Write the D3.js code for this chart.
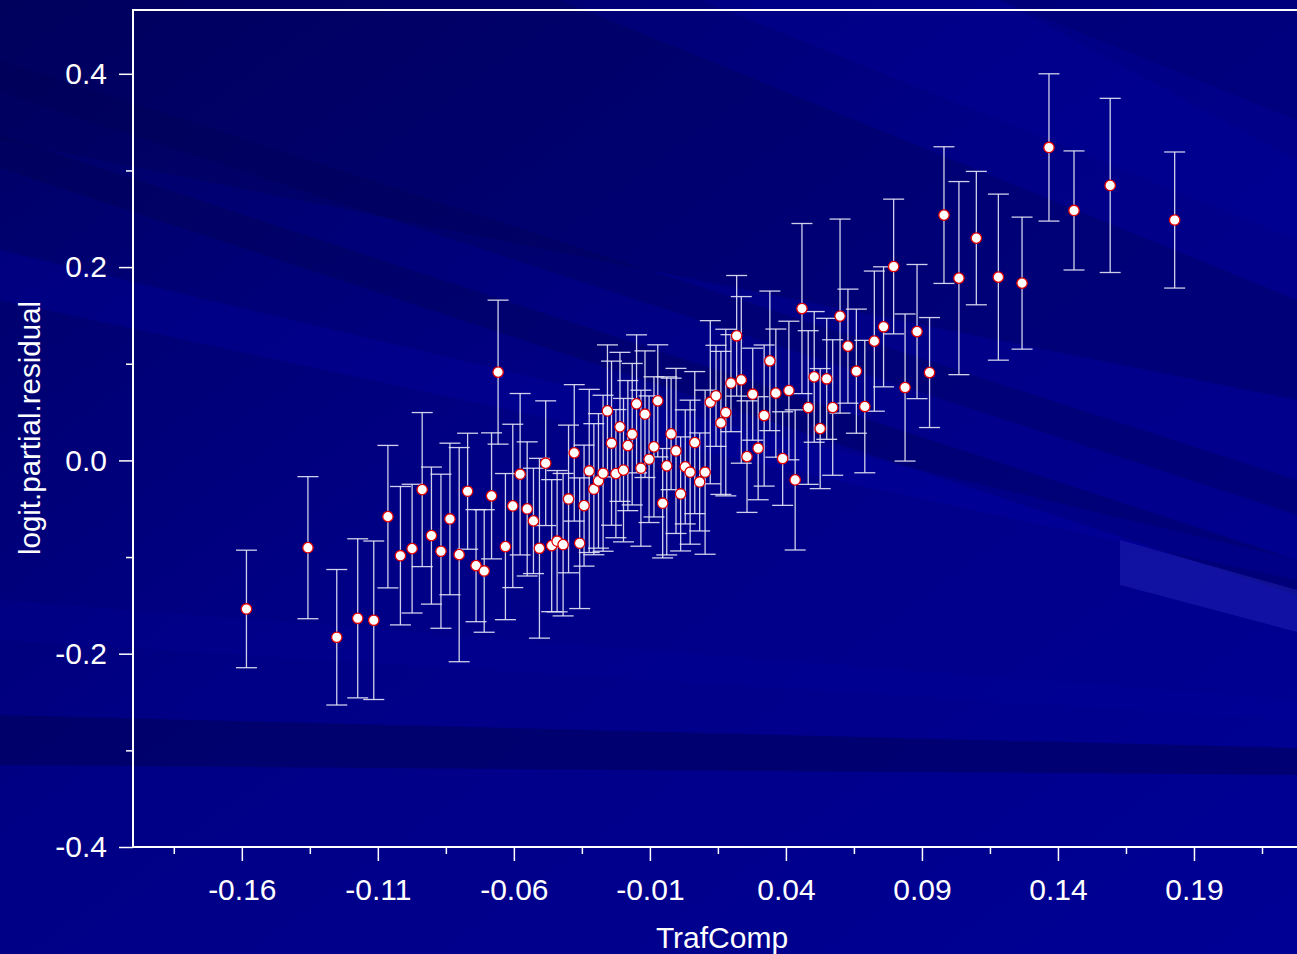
<!DOCTYPE html>
<html lang="en">
<head>
  <meta charset="UTF-8">
  <title>TrafComp partial residual</title>
  <style>
    html, body { margin: 0; padding: 0; overflow: hidden; background: #00007e; }
    svg { display: block; }
    .tick text { font-family: "Liberation Sans", Arial, sans-serif; font-size: 30px; fill: #fff; }
    .axis-title { font-family: "Liberation Sans", Arial, sans-serif; fill: #fff; }
  </style>
  <script src="https://d3js.org/d3.v7.min.js"></script>
</head>
<body>
  <svg width="1297" height="954"></svg>
  <script>
    // values
    const trafComp = [
      -0.1583, -0.1357, -0.1251, -0.1174, -0.1115, -0.1063, -0.1017, -0.0974, -0.0937, -0.0903,
      -0.0868, -0.0835, -0.0801, -0.0770, -0.0739, -0.0709, -0.0682, -0.0658, -0.0631, -0.0604,
      -0.0577, -0.0551, -0.0528, -0.0506, -0.0483, -0.0461, -0.0441, -0.0419, -0.0399, -0.0378,
      -0.0358, -0.0342, -0.0323, -0.0306, -0.0289, -0.0272, -0.0256, -0.0241, -0.0225, -0.0210,
      -0.0197, -0.0181, -0.0165, -0.0149, -0.0133, -0.0118, -0.0103, -0.0085, -0.0071, -0.0053,
      -0.0038, -0.0022, -0.0004, 0.0013, 0.0030, 0.0048, 0.0065, 0.0083, 0.0103, 0.0122,
      0.0143, 0.0161, 0.0179, 0.0198, 0.0219, 0.0236, 0.0257, 0.0278, 0.0298, 0.0320,
      0.0341, 0.0363, 0.0388, 0.0411, 0.0434, 0.0459, 0.0482, 0.0504, 0.0526, 0.0550,
      0.0572, 0.0599, 0.0628, 0.0659, 0.0690, 0.0725, 0.0759, 0.0796, 0.0838, 0.0882,
      0.0928, 0.0981, 0.1036, 0.1100, 0.1181, 0.1268, 0.1367, 0.1459, 0.1592, 0.1829
    ];
    const partialResid = [
      -0.1537, -0.0903, -0.1830, -0.1634, -0.1654, -0.0582, -0.0986, -0.0913, -0.0302, -0.0778,
      -0.0940, -0.0606, -0.0975, -0.0319, -0.1089, -0.1144, -0.0367, 0.0913, -0.0892, -0.0471,
      -0.0143, -0.0502, -0.0626, -0.0909, -0.0029, -0.0882, -0.0836, -0.0872, -0.0399, 0.0078,
      -0.0857, -0.0468, -0.0109, -0.0298, -0.0212, -0.0133, 0.0512, 0.0178, -0.0137, 0.0347,
      -0.0101, 0.0153, 0.0271, 0.0585, -0.0081, 0.0478, 0.0012, 0.0140, 0.0616, -0.0443,
      -0.0057, 0.0274, 0.0098, -0.0347, -0.0067, -0.0122, 0.0184, -0.0223, -0.0122, 0.0602,
      0.0668, 0.0388, 0.0495, 0.0799, 0.1289, 0.0833, 0.0039, 0.0685, 0.0126, 0.0464,
      0.1030, 0.0696, 0.0019, 0.0723, -0.0202, 0.1571, 0.0547, 0.0864, 0.0329, 0.0844,
      0.0547, 0.1493, 0.1182, 0.0923, 0.0557, 0.1234, 0.1382, 0.2006, 0.0754, 0.1333,
      0.0909, 0.2538, 0.1886, 0.2300, 0.1896, 0.1834, 0.3238, 0.2586, 0.2845, 0.2487
    ];
    const stdErr = [
      0.0608, 0.0735, 0.0701, 0.0823, 0.0820, 0.0737, 0.0716, 0.0666, 0.0797, 0.0709,
      0.0797, 0.0784, 0.1108, 0.0600, 0.0580, 0.0634, 0.0652, 0.0745, 0.0756, 0.0845,
      0.0835, 0.0694, 0.0545, 0.0930, 0.0645, 0.0683, 0.0731, 0.0737, 0.0764, 0.0706,
      0.0676, 0.0626, 0.0844, 0.0678, 0.0696, 0.0807, 0.0683, 0.0849, 0.0663, 0.0771,
      0.0742, 0.0673, 0.0732, 0.0714, 0.0807, 0.0655, 0.0655, 0.0725, 0.0580, 0.0566,
      0.0921, 0.0577, 0.0854, 0.0590, 0.0590, 0.0745, 0.0735, 0.0507, 0.0849, 0.0844,
      0.0523, 0.0740, 0.0862, 0.0502, 0.0624, 0.0862, 0.0577, 0.0476, 0.0533, 0.0730,
      0.0722, 0.0663, 0.0484, 0.0717, 0.0725, 0.0880, 0.0795, 0.0676, 0.0621, 0.0626,
      0.0701, 0.1004, 0.0590, 0.0642, 0.0685, 0.0725, 0.0621, 0.0697, 0.0761, 0.0694,
      0.0569, 0.0707, 0.0999, 0.0690, 0.0859, 0.0683, 0.0762, 0.0616, 0.0901, 0.0704
    ];

    const xMajor = [-0.16, -0.11, -0.06, -0.01, 0.04, 0.09, 0.14, 0.19];
    const xMinor = [-0.185, -0.135, -0.085, -0.035, 0.015, 0.065, 0.115, 0.165, 0.215];
    const yMajor = [-0.4, -0.2, 0.0, 0.2, 0.4];
    const yMinor = [-0.3, -0.1, 0.1, 0.3];

    const data = trafComp.map((v, i) => ({ x: v, y: partialResid[i], se: stdErr[i] }));

    const svg = d3.select('svg');
    const W = 1297, H = 954;

    // slide background: dark navy with diagonal streaks
    const defs = svg.append('defs');
    const grad = defs.append('linearGradient').attr('id', 'bg')
      .attr('x1', '0').attr('y1', '0').attr('x2', '1').attr('y2', '1');
    grad.append('stop').attr('offset', '0').attr('stop-color', '#000064');
    grad.append('stop').attr('offset', '0.45').attr('stop-color', '#000086');
    grad.append('stop').attr('offset', '1').attr('stop-color', '#000094');
    svg.append('rect').attr('width', W).attr('height', H).attr('fill', 'url(#bg)');

    const bands = [
      { pts: [[0, 0], [560, 0], [1297, 300], [1297, 400], [0, 140]], fill: '#000050', op: 0.3 },
      { pts: [[0, 60], [1297, 480], [1297, 515], [0, 92]], fill: '#000050', op: 0.3 },
      { pts: [[0, 135], [1297, 560], [1297, 595], [0, 168]], fill: '#00004a', op: 0.3 },
      { pts: [[0, 250], [1297, 560], [1297, 580], [0, 300]], fill: '#0000a8', op: 0.3 },
      { pts: [[700, 0], [1000, 0], [1297, 160], [1297, 240]], fill: '#0000a0', op: 0.3 },
      { pts: [[1000, 0], [1297, 0], [1297, 120]], fill: '#000060', op: 0.25 },
      { pts: [[0, 715], [1297, 748], [1297, 775], [0, 765]], fill: '#000050', op: 0.45 },
      { pts: [[0, 600], [1297, 700], [1297, 720], [0, 640]], fill: '#0000a0', op: 0.2 },
      { pts: [[1120, 540], [1297, 590], [1297, 632], [1120, 585]], fill: '#2a2ac0', op: 0.4 }
    ];
    svg.append('g').selectAll('polygon').data(bands).join('polygon')
      .attr('points', d => d.pts.map(p => p.join(',')).join(' '))
      .attr('fill', d => d.fill)
      .attr('fill-opacity', d => d.op);

    const x = d3.scaleLinear().domain([-0.2, 0.24]).range([133, 1330]);
    const y = d3.scaleLinear().domain([-0.4, 0.466]).range([847, 10]);

    // frame
    svg.append('rect')
      .attr('x', x(-0.2)).attr('y', y(0.466))
      .attr('width', x(0.24) - x(-0.2)).attr('height', y(-0.4) - y(0.466))
      .attr('fill', 'none').attr('stroke', '#fff').attr('stroke-width', 2);

    // axes
    svg.append('g').attr('transform', `translate(0,${y(-0.4)})`)
      .call(d3.axisBottom(x).tickValues(xMajor).tickSize(14).tickPadding(18)
        .tickFormat(d => d.toFixed(2)));
    svg.append('g').attr('transform', `translate(0,${y(-0.4)})`)
      .call(d3.axisBottom(x).tickValues(xMinor).tickSize(7).tickFormat(''));
    svg.append('g').attr('transform', `translate(${x(-0.2)},0)`)
      .call(d3.axisLeft(y).tickValues(yMajor).tickSize(14).tickPadding(12)
        .tickFormat(d => d.toFixed(1)));
    svg.append('g').attr('transform', `translate(${x(-0.2)},0)`)
      .call(d3.axisLeft(y).tickValues(yMinor).tickSize(7).tickFormat(''));
    svg.selectAll('.domain').remove();
    svg.selectAll('.tick line').attr('stroke', '#fff').attr('stroke-width', 1.5);

    svg.append('text').attr('class', 'axis-title')
      .attr('x', 722).attr('y', 948)
      .attr('text-anchor', 'middle').attr('font-size', 30)
      .text('TrafComp');
    svg.append('text').attr('class', 'axis-title')
      .attr('transform', 'translate(40,428) rotate(-90)')
      .attr('text-anchor', 'middle').attr('font-size', 29.5)
      .text('logit.partial.residual');

    // error bars
    const bars = svg.append('g')
      .attr('stroke', '#e6e6f6').attr('stroke-opacity', 0.9).attr('stroke-width', 1.3);
    bars.selectAll('.stem').data(data).join('line').attr('class', 'stem')
      .attr('x1', d => x(d.x)).attr('x2', d => x(d.x))
      .attr('y1', d => y(d.y + d.se)).attr('y2', d => y(d.y - d.se));
    bars.selectAll('.cap-hi').data(data).join('line').attr('class', 'cap-hi')
      .attr('x1', d => x(d.x) - 10.5).attr('x2', d => x(d.x) + 10.5)
      .attr('y1', d => y(d.y + d.se)).attr('y2', d => y(d.y + d.se));
    bars.selectAll('.cap-lo').data(data).join('line').attr('class', 'cap-lo')
      .attr('x1', d => x(d.x) - 10.5).attr('x2', d => x(d.x) + 10.5)
      .attr('y1', d => y(d.y - d.se)).attr('y2', d => y(d.y - d.se));

    // points
    svg.append('g').selectAll('circle').data(data).join('circle')
      .attr('cx', d => x(d.x)).attr('cy', d => y(d.y)).attr('r', 5.2)
      .attr('fill', '#fff').attr('stroke', '#e00000').attr('stroke-width', 1.3);
  </script>
</body>
</html>
